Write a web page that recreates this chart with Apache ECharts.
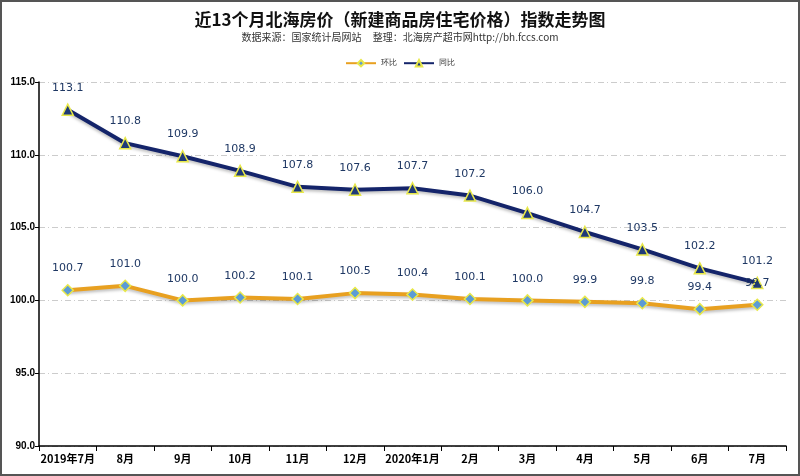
<!DOCTYPE html>
<html><head><meta charset="utf-8">
<script src="https://cdn.jsdelivr.net/npm/echarts@6/dist/echarts.min.js"></script>
<style>html,body{margin:0;padding:0;background:#fff}#c{width:796px;height:472px;border:2px solid #555;}</style>
</head><body><div id="c"></div>
<script>
const categories = ['2019年7月','8月','9月','10月','11月','12月','2020年1月','2月','3月','4月','5月','6月','7月'];
const huanbi = [100.7,101.0,100.0,100.2,100.1,100.5,100.4,100.1,100.0,99.9,99.8,99.4,99.7];
const tongbi = [113.1,110.8,109.9,108.9,107.8,107.6,107.7,107.2,106.0,104.7,103.5,102.2,101.2];
const seriesNames = ['环比','同比'];
const chart = echarts.init(document.getElementById('c'));
const labelStyle = {show:true, position:'top', distance:10, color:'#1f3864', fontSize:11, fontFamily:'DejaVu Sans', formatter:p=>p.value.toFixed(1)};
chart.setOption({
  animation:false,
  title:{text:'近13个月北海房价（新建商品房住宅价格）指数走势图', subtext:'数据来源：国家统计局网站     整理：北海房产超市网http://bh.fccs.com', left:'center', top:4,
    textStyle:{fontSize:17, fontWeight:'bold', color:'#111', fontFamily:'Noto Sans CJK SC'},
    subtextStyle:{fontSize:10, color:'#333', fontFamily:'Noto Sans CJK SC'}, itemGap:4},
  legend:{top:52, left:'center', itemWidth:30, itemHeight:8, itemGap:6, textStyle:{fontSize:8, color:'#333'}, data:seriesNames},
  grid:{left:37, right:12, top:80, bottom:28},
  xAxis:{type:'category', data:categories, boundaryGap:true,
    axisLine:{lineStyle:{color:'#000', width:1.5}}, axisTick:{show:true, length:5, lineStyle:{color:'#000'}},
    axisLabel:{interval:0, color:'#000', fontWeight:'bold', fontSize:11, fontFamily:'Noto Sans CJK SC', margin:7}},
  yAxis:{type:'value', min:90, max:115, interval:5,
    axisLine:{show:true, lineStyle:{color:'#000', width:1.5}}, axisTick:{show:true, length:4, lineStyle:{color:'#000'}},
    axisLabel:{color:'#000', fontWeight:'bold', fontSize:10, formatter:v=>v.toFixed(1), margin:4},
    splitLine:{lineStyle:{color:'#ccc', type:[6,3,1,3]}}},
  series:[
    {name:seriesNames[0], type:'line', data:huanbi, symbol:'diamond', symbolSize:11,
     lineStyle:{color:'#e8a020', width:4, shadowColor:'rgba(0,0,0,0.25)', shadowOffsetY:2, shadowBlur:3},
     itemStyle:{color:'#5b9bd5', borderColor:'#e8e84a', borderWidth:1.5}, label:labelStyle},
    {name:seriesNames[1], type:'line', data:tongbi, symbol:'triangle', symbolSize:11,
     lineStyle:{color:'#14246a', width:4, shadowColor:'rgba(0,0,0,0.25)', shadowOffsetY:2, shadowBlur:3},
     itemStyle:{color:'#1f3a78', borderColor:'#e8e84a', borderWidth:1.5}, label:labelStyle}
  ]
});
</script></body></html>
